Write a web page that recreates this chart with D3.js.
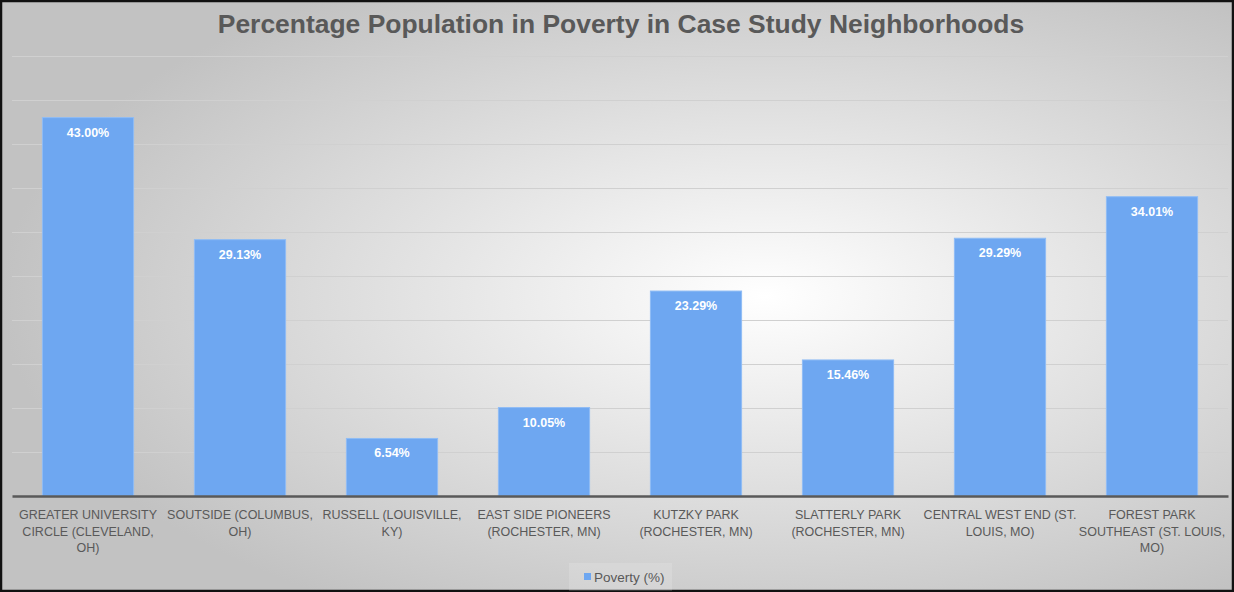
<!DOCTYPE html>
<html>
<head>
<meta charset="utf-8">
<script src="https://cdn.jsdelivr.net/npm/d3@7"></script>
<style>
  html, body { margin: 0; padding: 0; background: #fff; }
  svg { display: block; }
</style>
</head>
<body>
<div id="chart"></div>
<script>
// category labels, split where the original chart wraps them
var categoryLines = [
    ["GREATER UNIVERSITY", "CIRCLE (CLEVELAND,", "OH)"],
    ["SOUTSIDE (COLUMBUS,", "OH)"],
    ["RUSSELL (LOUISVILLE,", "KY)"],
    ["EAST SIDE PIONEERS", "(ROCHESTER, MN)"],
    ["KUTZKY PARK", "(ROCHESTER, MN)"],
    ["SLATTERLY PARK", "(ROCHESTER, MN)"],
    ["CENTRAL WEST END (ST.", "LOUIS, MO)"],
    ["FOREST PARK", "SOUTHEAST (ST. LOUIS,", "MO)"]
];
var categories = categoryLines.map(l => l.join(" "));
var poverty = [43.00, 29.13, 6.54, 10.05, 23.29, 15.46, 29.29, 34.01];
var yTicks = [5, 10, 15, 20, 25, 30, 35, 40, 45, 50];
var seriesName = "Poverty (%)";
var chartTitle = "Percentage Population in Poverty in Case Study Neighborhoods";

var width = 1234, height = 592;
var margin = {top: 56, right: 6, bottom: 96, left: 12};
var barColour = "#6ea7f1";
var textColour = "#595959";
var font = "'Liberation Sans', Arial, sans-serif";

var svg = d3.select("#chart").append("svg")
    .attr("width", width)
    .attr("height", height);

// background: radial grey-to-white like the office chart style
var defs = svg.append("defs");
var grad = defs.append("radialGradient")
    .attr("id", "bg")
    .attr("cx", "62%").attr("cy", "50%")
    .attr("r", "62%")
    .attr("gradientUnits", "objectBoundingBox");
grad.append("stop").attr("offset", "0%").attr("stop-color", "#ffffff");
grad.append("stop").attr("offset", "100%").attr("stop-color", "#c2c2c2");

svg.append("rect")
    .attr("x", 1).attr("y", 1)
    .attr("width", width - 2).attr("height", height - 2)
    .attr("fill", "url(#bg)")
    .attr("stroke", "#111")
    .attr("stroke-width", 2.5);

var x = d3.scaleBand()
    .domain(categories)
    .range([margin.left, width - margin.right])
    .paddingInner(0.4)
    .paddingOuter(0.2);

var y = d3.scaleLinear()
    .domain([0, 50])
    .range([height - margin.bottom, margin.top]);

// gridlines
svg.append("g")
    .attr("class", "grid")
    .attr("transform", "translate(" + margin.left + ",0)")
    .call(d3.axisLeft(y).tickValues(yTicks).tickSize(-(width - margin.left - margin.right)).tickFormat(""))
    .call(g => g.select(".domain").remove())
    .call(g => g.selectAll("line").attr("stroke", "#d0d0d0").attr("stroke-width", 1));

// bars
svg.append("g").selectAll("rect")
    .data(poverty)
    .enter()
    .append("rect")
    .attr("x", (d, i) => x(categories[i]))
    .attr("y", d => y(d))
    .attr("width", x.bandwidth())
    .attr("height", d => y(0) - y(d))
    .attr("fill", barColour)
    .attr("stroke", "#8fbcf5")
    .attr("stroke-width", 1);

// data labels
svg.append("g").selectAll("text")
    .data(poverty)
    .enter()
    .append("text")
    .attr("x", (d, i) => x(categories[i]) + x.bandwidth() / 2)
    .attr("y", d => y(d) + 19)
    .attr("text-anchor", "middle")
    .attr("fill", "#fff")
    .attr("font-family", font)
    .attr("font-weight", "bold")
    .attr("font-size", 12.5)
    .text(d => d.toFixed(2) + "%");

// x axis
var xAxis = svg.append("g")
    .attr("transform", "translate(0," + y(0) + ")")
    .call(d3.axisBottom(x).tickSize(0).tickPadding(0));
xAxis.select(".domain")
    .attr("stroke", "#595959")
    .attr("stroke-width", 2.5);
xAxis.selectAll(".tick text").remove();

xAxis.selectAll(".tick").each(function(cat, i) {
    var t = d3.select(this).append("text")
        .attr("fill", textColour)
        .attr("font-family", font)
        .attr("font-size", 12.5)
        .attr("text-anchor", "middle")
        .attr("y", 23);
    t.selectAll("tspan")
        .data(categoryLines[i])
        .enter()
        .append("tspan")
        .attr("x", 0)
        .attr("dy", (d, j) => j ? 16.5 : 0)
        .text(d => d);
});

// title
var title = svg.append("text")
    .attr("x", width / 2 + 4)
    .attr("y", 33)
    .attr("text-anchor", "middle")
    .attr("fill", textColour)
    .attr("font-family", font)
    .attr("font-weight", "bold")
    .attr("font-size", 26)
    .text(chartTitle);
var tw = title.node().getComputedTextLength();
title.attr("font-size", 26 * 807 / tw);

// legend
var legend = svg.append("g")
    .attr("transform", "translate(584,577)");
legend.append("rect")
    .attr("x", -15).attr("y", -14)
    .attr("width", 103).attr("height", 28)
    .attr("fill", "#ffffff").attr("fill-opacity", 0.15);
legend.append("rect")
    .attr("x", 0).attr("y", -4)
    .attr("width", 7).attr("height", 7)
    .attr("fill", barColour);
legend.append("text")
    .attr("x", 10).attr("y", 4.5)
    .attr("fill", textColour)
    .attr("font-family", font)
    .attr("font-size", 13.5)
    .text(seriesName);
</script>
</body>
</html>
